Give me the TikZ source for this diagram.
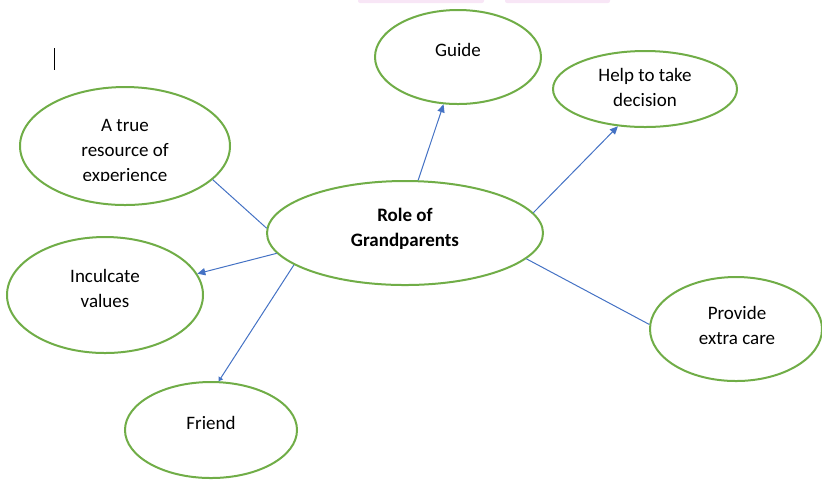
\documentclass[tikz,border=0pt]{standalone}
\usepackage{fontspec}
\setmainfont{Carlito}
\usetikzlibrary{shapes.geometric,arrows.meta,positioning}
\definecolor{bubgreen}{HTML}{70AD47}
\definecolor{lnkblue}{HTML}{4472C4}
\definecolor{smudge}{RGB}{248,230,246}
\tikzset{
  bubble/.style={draw=bubgreen,line width=1pt,ellipse,inner sep=0pt},
  lbl/.style={align=center,inner sep=0pt,font=\fontsize{9.5}{12.5}\selectfont},
  lnk/.style={draw=lnkblue,line width=0.5pt},
  tip/.style={-{Triangle[length=4pt,width=3.6pt]}},
  smalltip/.style={-{Triangle[length=2pt,width=2.6pt]}}
}
\begin{document}
\begin{tikzpicture}[x=0.5pt,y=-0.5pt]
    \useasboundingbox (0,0) rectangle (822,479);
    \fill[smudge,rounded corners=1pt] (358,-2) rectangle (484,3);
    \fill[smudge,rounded corners=1pt] (505,-2) rectangle (610,3);
    \draw[black,line width=0.5pt] (54,48) coordinate (cur) -- (54,70);
    \node[bubble,minimum width=83pt,minimum height=47pt] (gd) at (458,57) {};
    \node[lbl] (gdt) at (458,50) {Guide};
    \node[bubble,minimum width=92pt,minimum height=38pt] (hlp) at (645,89) {};
    \node[lbl] (hlpt) at (645,87.5) {Help to take\\decision};
    \node[bubble,minimum width=105pt,minimum height=59pt] (res) at (125,146) {};
    \begin{scope}
      \clip (20,100) rectangle (230,180.5);
      \node[lbl] (rest) at (125,152) {A true\\resource of\\experience};
    \end{scope}
    \node[bubble,minimum width=138pt,minimum height=52pt] (cen) at (405,233) {};
    \node[lbl,font=\fontsize{9.5}{12.5}\selectfont\bfseries] (cent) at (405,228.5) {Role of\\Grandparents};
    \node[bubble,minimum width=98pt,minimum height=58pt] (inc) at (105,295) {};
    \node[lbl] (inct) at (105,288) {Inculcate\\values};
    \node[bubble,minimum width=86pt,minimum height=48pt] (frd) at (211,430) {};
    \node[lbl] (frdt) at (211,423) {Friend};
    \node[bubble,minimum width=86pt,minimum height=52pt] (prv) at (736,329) {};
    \node[lbl] (prvt) at (737,325.5) {Provide\\extra care};
    \draw[lnk,tip] (cen.76) -- (gd.253);
    \draw[lnk,tip] (cen.9) -- (hlp.234);
    \draw[lnk] (res.-21) -- (cen.178);
    \draw[lnk,tip] (cen.189) -- (inc.13);
    \draw[lnk,smalltip] (cen.196) -- (frd.81);
    \draw[lnk] (cen.-12) -- (prv.177);
\end{tikzpicture}
\end{document}
